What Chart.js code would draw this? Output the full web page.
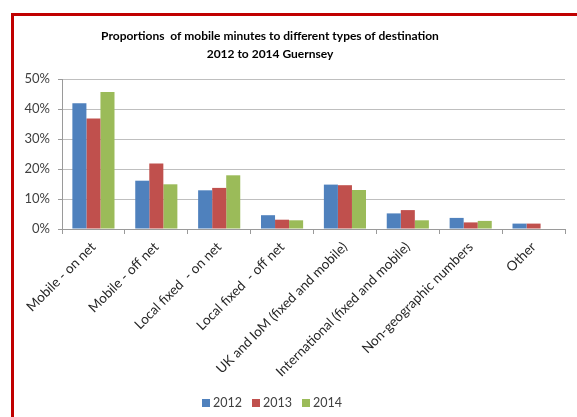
<!DOCTYPE html>
<html>
<head>
<meta charset="utf-8">
<script src="https://cdn.jsdelivr.net/npm/chart.js@4.4.1/dist/chart.umd.min.js"></script>
<style>
    html, body { margin: 0; padding: 0; background: #fff; }
    #wrap { position: relative; width: 577px; height: 417px; overflow: hidden; }
    #frame { position: absolute; left: 11px; top: 13px; width: 620px; height: 430px;
             border-left: 3px solid #c00000; border-top: 3px solid #c00000; pointer-events: none; }
</style>
</head>
<body>
<div id="wrap">
    <canvas id="minutesChart" width="577" height="417"></canvas>
    <div id="frame"></div>
</div>
<script>
const titleLines = ['Proportions  of mobile minutes to different types of destination', '2012 to 2014 Guernsey'];
const categories = [
    'Mobile - on net',
    'Mobile - off net',
    'Local fixed  - on net',
    'Local fixed  - off net',
    'UK and IoM (fixed and mobile)',
    'International (fixed and mobile)',
    'Non-geographic numbers',
    'Other'
];
const years = ['2012', '2013', '2014'];
const values2012 = [41.9, 16.1, 12.9, 4.6, 14.8, 5.2, 3.7, 1.8];
const values2013 = [36.8, 21.8, 13.7, 3.1, 14.6, 6.3, 2.2, 1.8];
const values2014 = [45.7, 14.9, 17.9, 2.9, 13.0, 2.9, 2.7, 0];
const yTicks = [0, 10, 20, 30, 40, 50];

const colors = ['#4f81bd', '#c0504d', '#9bbb59'];
const FONT = 'Lato, "Open Sans", sans-serif';

// title and legend are drawn by hand so they sit where Excel put them
const headerFooter = {
    id: 'headerFooter',
    afterDraw(chart) {
        const ctx = chart.ctx;
        ctx.save();
        ctx.fillStyle = '#000';
        ctx.font = 'bold 12px ' + FONT;
        ctx.textAlign = 'center';
        ctx.textBaseline = 'middle';
        titleLines.forEach((t, i) => ctx.fillText(t, 270, 36 + i * 18));

        ctx.font = '12.5px ' + FONT;
        ctx.textAlign = 'left';
        const box = 8, gap = 3, spacing = 10;
        const items = chart.data.datasets.map(ds => ({
            label: ds.label, color: ds.backgroundColor, w: ctx.measureText(ds.label).width
        }));
        const total = items.reduce((s, it) => s + box + gap + it.w, 0) + spacing * (items.length - 1);
        let x = 272 - total / 2;
        const y = 403;
        items.forEach(it => {
            ctx.fillStyle = it.color;
            ctx.fillRect(x, y - box / 2, box, box);
            ctx.fillStyle = '#404040';
            ctx.fillText(it.label, x + box + gap, y);
            x += box + gap + it.w + spacing;
        });
        ctx.restore();
    }
};

const ctx = document.getElementById('minutesChart').getContext('2d');
new Chart(ctx, {
    type: 'bar',
    data: {
        labels: categories,
        datasets: [values2012, values2013, values2014].map((vals, i) => ({
            label: years[i],
            data: vals,
            backgroundColor: colors[i],
            borderWidth: 0,
            categoryPercentage: 0.67,
            barPercentage: 1.0
        }))
    },
    options: {
        responsive: false,
        animation: false,
        layout: { padding: { left: 14, right: 12, top: 79, bottom: 0 } },
        plugins: {
            legend: { display: false },
            title: { display: false },
            tooltip: { enabled: false }
        },
        scales: {
            x: {
                afterFit: s => { s.height = 188; },
                grid: {
                    offset: true,
                    drawOnChartArea: false,
                    drawTicks: true,
                    tickLength: 5,
                    color: '#9a9a9a'
                },
                border: { color: '#9a9a9a' },
                ticks: {
                    minRotation: 45,
                    maxRotation: 45,
                    autoSkip: false,
                    color: '#262626',
                    font: { family: FONT, size: 13.5 },
                    padding: 5
                }
            },
            y: {
                min: 0,
                max: 50,
                afterFit: s => { s.width = 48; },
                afterBuildTicks: s => { s.ticks = yTicks.map(v => ({ value: v })); },
                grid: {
                    color: '#bfbfbf',
                    tickLength: 4,
                    tickColor: '#9a9a9a'
                },
                border: { color: '#9a9a9a' },
                ticks: {
                    color: '#404040',
                    font: { family: FONT, size: 13 },
                    padding: 8,
                    callback: v => v + '%'
                }
            }
        }
    },
    plugins: [headerFooter]
});
</script>
</body>
</html>
